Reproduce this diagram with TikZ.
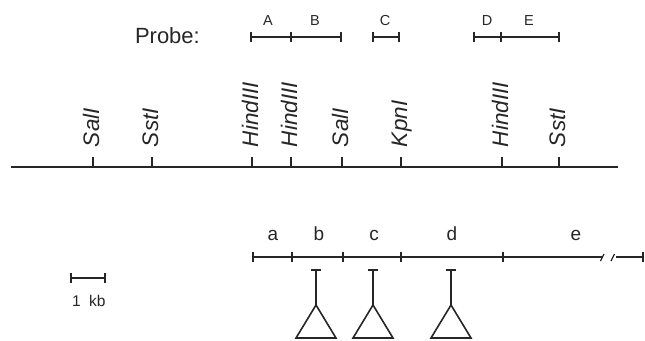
\documentclass[tikz,border=0pt]{standalone}
\usepackage{fontspec}
\setmainfont{Liberation Sans}
\definecolor{ink}{HTML}{262626}
\begin{document}
\begin{tikzpicture}[x=1bp,y=-1bp,
  line width=1.3bp, draw=ink, text=ink,
  every node/.style={inner sep=0pt, outer sep=0pt},
  tickmark/.style={line width=1.2bp},
  site/.style={rotate=90, anchor=base west, font=\fontsize{22.5bp}{26bp}\selectfont\itshape},
  probelab/.style={anchor=base, font=\fontsize{14.5bp}{16bp}\selectfont},
  fraglab/.style={anchor=base, font=\fontsize{19bp}{22bp}\selectfont},
  insert/.style={line width=1.6bp, line join=miter}]
\useasboundingbox (0,0) rectangle (645,340);

% ---------- probes ----------
\node[anchor=base west, font=\fontsize{22bp}{26bp}\selectfont] (probe) at (135,43) {Probe:};
\foreach \n/\x in {p1/251, p2/291, p3/341, p4/373, p5/399, p6/474, p7/501, p8/559}
  \coordinate (\n) at (\x,37);
\draw (p1) -- (p3);
\draw (p4) -- (p5);
\draw (p6) -- (p8);
\foreach \n in {p1,p2,p3,p4,p5,p6,p7,p8}
  \draw[tickmark] (\n) ++(0,-5) -- ++(0,10);
\node[probelab] (pA) at (268,25) {A};
\node[probelab] (pB) at (315,25) {B};
\node[probelab] (pC) at (385,25) {C};
\node[probelab] (pD) at (487,25) {D};
\node[probelab] (pE) at (529,25) {E};

% ---------- restriction map ----------
\coordinate (m0) at (11,167);
\coordinate (m1) at (618,167);
\draw (m0) -- (m1);
\foreach \n/\x/\t in {s1/93/SalI, s2/152/SstI, s3/252/HindIII, s4/291/HindIII,
                      s5/342/SalI, s6/401/KpnI, s7/502/HindIII, s8/559/SstI}{
  \coordinate (\n) at (\x,167);
  \draw[tickmark] (\n) -- ++(0,-10);
  \node[site] (\n lab) at (\x+6,147) {\t};
}

% ---------- fragments ----------
\foreach \n/\x in {f0/253, f1/292, f2/343, f3/401, f4/503, f5/643}
  \coordinate (\n) at (\x,257);
\coordinate (brk0) at (602,257);
\coordinate (brk1) at (616,257);
\draw (f0) -- (brk0);
\draw (brk1) -- (f5);
% break marks
\draw (brk0) ++(-1.5,4) -- ++(3.5,-7);
\draw (brk1) ++(-5,4) -- ++(3.5,-7);
\foreach \n in {f0,f1,f2,f3,f4,f5}
  \draw[tickmark] (\n) ++(0,-5) -- ++(0,10);
\node[fraglab] (fa) at (273,240) {a};
\node[fraglab] (fb) at (319,240) {b};
\node[fraglab] (fc) at (374,240) {c};
\node[fraglab] (fd) at (452,240) {d};
\node[fraglab] (fe) at (576,240) {e};

% ---------- insertions ----------
\foreach \n/\x in {i1/316, i2/373, i3/451}{
  \coordinate (\n top) at (\x,270);
  \coordinate (\n apex) at (\x,305);
  \draw (\n top) ++(-5,0) -- ++(10,0);
  \draw (\n top) -- (\n apex);
  \draw[insert] (\n apex) -- ++(-20,33) -- ++(40,0) -- cycle;
}

% ---------- scale bar ----------
\coordinate (k0) at (71,278);
\coordinate (k1) at (105,278);
\draw (k0) -- (k1);
\draw[tickmark] (k0) ++(0,-5) -- ++(0,10);
\draw[tickmark] (k1) ++(0,-5) -- ++(0,10);
\node[anchor=base west, font=\fontsize{15.5bp}{18bp}\selectfont] (kb) at (72,306) {1\hspace{0.55em}kb};
\end{tikzpicture}
\end{document}
